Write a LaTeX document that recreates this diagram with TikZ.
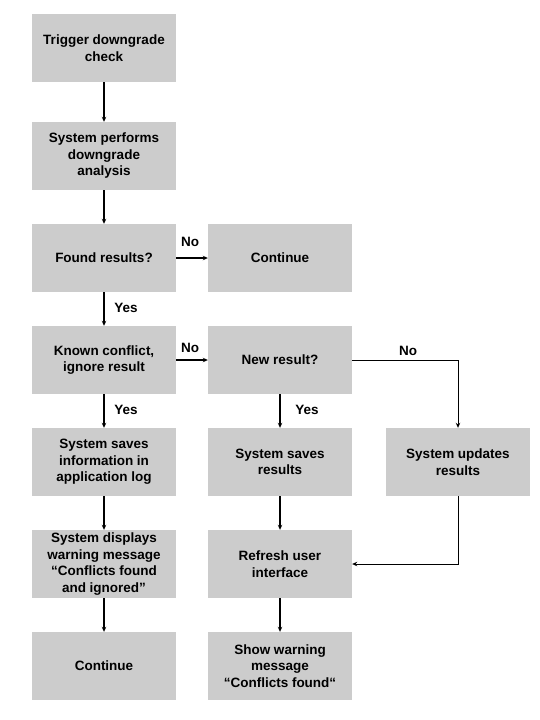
\documentclass[tikz,border=0pt]{standalone}
\usepackage{fontspec}
\setmainfont{Liberation Sans}
\usetikzlibrary{arrows.meta}
\definecolor{boxgray}{RGB}{204,204,204}
\begin{document}
\begin{tikzpicture}[x=1pt,y=-1pt,
  box/.style={fill=boxgray, minimum width=144pt, minimum height=68pt, align=center, inner sep=2pt,
    font=\fontsize{13.5}{16.5}\selectfont\bfseries},
  conn/.style={line width=1.3pt, -{Stealth[length=5pt,width=4.5pt]}},
  thin/.style={line width=1pt, -{Stealth[length=5pt,width=4.5pt]}},
  lbl/.style={font=\fontsize{13.5}{16}\selectfont\bfseries, inner sep=0pt}]
\useasboundingbox (0,0) rectangle (540,720);
\node[box] (trig) at (104,48) {Trigger downgrade\\check};
\node[box] (perf) at (104,156) {System performs\\downgrade\\analysis};
\node[box] (found) at (104,258) {Found results?};
\node[box] (cont1) at (280,258) {Continue};
\node[box] (known) at (104,360) {Known conflict,\\ignore result};
\node[box] (newr) at (280,360) {New result?};
\node[box] (savelog) at (104,462) {System saves\\information in\\application log};
\node[box] (saveres) at (280,462) {System saves\\results};
\node[box] (upd) at (458,462) {System updates\\results};
\node[box] (disp) at (104,564) {System displays\\warning message\\“Conflicts found\\and ignored”};
\node[box] (refr) at (280,564) {Refresh user\\interface};
\node[box] (cont2) at (104,666) {Continue};
\node[box] (show) at (280,666) {Show warning\\message\\“Conflicts found“};

\draw[conn] (trig) -- (perf);
\draw[conn] (perf) -- (found);
\draw[conn] (found) -- (cont1);
\draw[conn] (found) -- (known);
\draw[conn] (known) -- (newr);
\draw[conn] (known) -- (savelog);
\draw[conn] (savelog) -- (disp);
\draw[conn] (disp) -- (cont2);
\draw[conn] (newr) -- (saveres);
\draw[conn] (saveres) -- (refr);
\draw[conn] (refr) -- (show);
\draw[thin] (newr.east) -| (upd.north);
\draw[thin] (upd.south) |- (refr.east);

\node[lbl] (no1) at (190,242) {No};
\node[lbl] (no2) at (190,348) {No};
\node[lbl] (no3) at (408,351) {No};
\node[lbl] (yes1) at (126,308) {Yes};
\node[lbl] (yes2) at (126,410) {Yes};
\node[lbl] (yes3) at (307,410) {Yes};
\end{tikzpicture}
\end{document}
